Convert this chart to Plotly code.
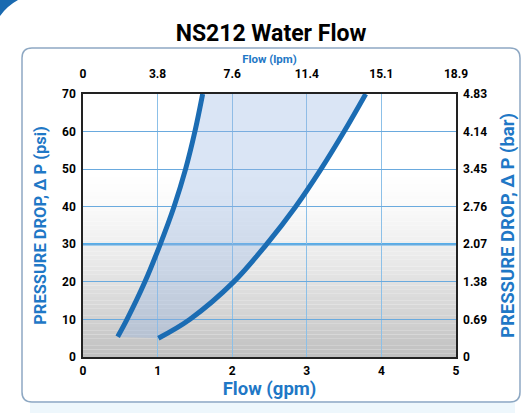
import plotly.graph_objects as go

# ---- data ----
gpm_ticks = [0, 1, 2, 3, 4, 5]
gpm_labels = ["0", "1", "2", "3", "4", "5"]
lpm_labels = ["0", "3.8", "7.6", "11.4", "15.1", "18.9"]
psi_ticks = [0, 10, 20, 30, 40, 50, 60, 70]
psi_labels = ["0", "10", "20", "30", "40", "50", "60", "70"]
bar_labels = ["0", "0.69", "1.38", "2.07", "2.76", "3.45", "4.14", "4.83"]

left_flow = [0.465, 0.59, 0.83, 1.035, 1.22, 1.375, 1.50, 1.604]
left_psi = [5.4, 10, 20, 30, 40, 50, 60, 70]
right_flow = [1.01, 1.43, 2.02, 2.46, 2.85, 3.19, 3.50, 3.79]
right_psi = [5, 10, 20, 30, 40, 50, 60, 70]

# ---- layout geometry (pixels) ----
W, H = 523, 413
L, R, T, B = 83, 456, 94, 357


def px(x):
    return (x - L) / (R - L)


def py(y):
    return (B - y) / (B - T)


BLUE = "#1f78c6"
LINE = "#1b6cb3"
FONT = "Roboto"

fig = go.Figure()

fig.add_trace(go.Scatter(
    x=left_flow, y=left_psi, mode="lines", line=dict(color=LINE, width=5, shape="spline"),
    hoverinfo="skip", showlegend=False))
fig.add_trace(go.Scatter(
    x=right_flow, y=right_psi, mode="lines", line=dict(color=LINE, width=5, shape="spline"),
    fill="tonextx", fillcolor="rgba(150,180,225,0.35)",
    hoverinfo="skip", showlegend=False))
fig.add_trace(go.Scatter(
    x=[None], y=[None], xaxis="x2", yaxis="y2", mode="lines", hoverinfo="skip", showlegend=False))

shapes = []
# background gradient in the plot area
top_grad = 50
for i in range(top_grad):
    ymid = i + 0.5
    f = ((top_grad - ymid) / top_grad) ** 1.5
    v = int(round(255 - 64 * f))
    shapes.append(dict(type="rect", xref="x", yref="y", x0=0, x1=5, y0=i, y1=i + 1,
                       fillcolor=f"rgb({v},{v},{v})", line=dict(width=0), layer="below"))
# emphasised 30 psi line
shapes.append(dict(type="line", xref="x", yref="y", x0=0, x1=5, y0=30, y1=30,
                   line=dict(color="#55aeea", width=2.5), layer="below"))


# rounded outer frame
def rrect(x0, y0, x1, y1, r):
    p = []
    p.append(f"M {px(x0 + r)},{py(y0)}")
    p.append(f"L {px(x1 - r)},{py(y0)}")
    p.append(f"Q {px(x1)},{py(y0)} {px(x1)},{py(y0 + r)}")
    p.append(f"L {px(x1)},{py(y1 - r)}")
    p.append(f"Q {px(x1)},{py(y1)} {px(x1 - r)},{py(y1)}")
    p.append(f"L {px(x0 + r)},{py(y1)}")
    p.append(f"Q {px(x0)},{py(y1)} {px(x0)},{py(y1 - r)}")
    p.append(f"L {px(x0)},{py(y0 + r)}")
    p.append(f"Q {px(x0)},{py(y0)} {px(x0 + r)},{py(y0)}")
    p.append("Z")
    return " ".join(p)


shapes.append(dict(type="rect", xref="paper", yref="paper", x0=px(30), x1=px(515),
                   y0=py(413), y1=py(401), fillcolor="#eef7fc", line=dict(width=0), layer="below"))
shapes.append(dict(type="path", xref="paper", yref="paper", path=rrect(22, 48, 520, 402, 10),
                   line=dict(color="#8ea8c3", width=1.5), layer="below"))
# top-left decorative swoosh
sw = f"M {px(0)},{py(0)} L {px(18)},{py(0)} Q {px(7)},{py(6)} {px(0)},{py(16)} Z"
shapes.append(dict(type="path", xref="paper", yref="paper", path=sw,
                   fillcolor="#1a6ab0", line=dict(width=0), layer="above"))

tickfont = dict(family=FONT, size=12, color="black", weight="bold")

fig.update_layout(
    width=W, height=H,
    margin=dict(l=L, r=W - R, t=T, b=H - B, autoexpand=False),
    paper_bgcolor="white", plot_bgcolor="white",
    title=dict(text="NS212 Water Flow", x=271 / W, xanchor="center", y=1 - 33 / H, yanchor="middle",
               font=dict(family=FONT, size=23, color="black", weight="bold")),
    shapes=shapes,
    xaxis=dict(range=[0, 5], tickvals=gpm_ticks, ticktext=gpm_labels, showgrid=True,
               gridcolor="#8cc0e8", gridwidth=1, zeroline=False, showline=True, mirror=True,
               linecolor="#222222", linewidth=1.5, ticks="", tickfont=tickfont, ticklabelstandoff=2,
               title=dict(text="Flow (gpm)", font=dict(family=FONT, size=18.5, color=BLUE, weight="bold"),
                          standoff=2), automargin=False, fixedrange=True),
    xaxis2=dict(range=[0, 5], overlaying="x", side="top", tickvals=gpm_ticks, ticktext=lpm_labels,
                showgrid=False, zeroline=False, showline=False, ticks="", tickfont=tickfont,
                ticklabelstandoff=13,
                title=dict(text="Flow (lpm)", font=dict(family=FONT, size=11.5, color=BLUE, weight="bold"),
                           standoff=0), automargin=False, fixedrange=True),
    yaxis=dict(range=[0, 70], tickvals=psi_ticks, ticktext=psi_labels, showgrid=True,
               gridcolor="#6aaade", gridwidth=1, zeroline=False, showline=True, mirror=True,
               linecolor="#222222", linewidth=1.5, ticks="", tickfont=tickfont, ticklabelstandoff=3,
               title=dict(text="PRESSURE DROP, Δ P (psi)",
                          font=dict(family=FONT, size=16.5, color=BLUE, weight="bold"), standoff=11),
               automargin=False, fixedrange=True),
    yaxis2=dict(range=[0, 70], overlaying="y", side="right", tickvals=psi_ticks, ticktext=bar_labels,
                showgrid=False, zeroline=False, showline=False, ticks="", tickfont=tickfont,
                ticklabelstandoff=6,
                title=dict(text="PRESSURE DROP, Δ P (bar)",
                           font=dict(family=FONT, size=18.5, color=BLUE, weight="bold"), standoff=14),
                automargin=False, fixedrange=True),
)

fig.write_html("out.html", config={"displayModeBar": False},
               post_script="document.body.style.margin='0px';")
